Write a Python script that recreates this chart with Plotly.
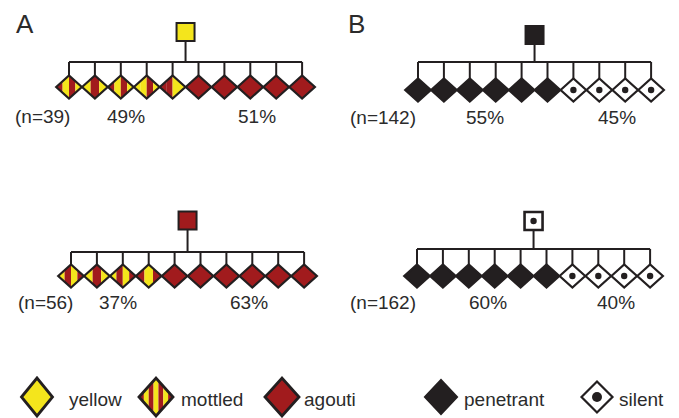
import plotly.graph_objects as go

# ---------------- data ----------------
panel_labels = ["A", "B"]
litter_n = [39, 56, 142, 162]
pct_left = [49, 37, 55, 60]
pct_right = [51, 63, 45, 40]
parent_pheno = ["yellow", "agouti", "penetrant", "silent"]
left_class = ["mottled", "mottled", "penetrant", "penetrant"]
left_count = [5, 4, 6, 6]
right_class = ["agouti", "agouti", "silent", "silent"]
right_count = [5, 6, 4, 4]
mottle_patterns = [
    ["RYRY", "YRY", "RYRY", "YYRY", "RRYY"],
    ["YRYR", "YRY", "YRYR", "RYR"],
    [], [],
]
legend_labels = ["yellow", "mottled", "agouti", "penetrant", "silent"]
legend_pattern = "RYRYRYR"

# ---------------- style / layout ----------------
W, H = 679, 418
PAD = 8                  # page body margin of the browser
INK = "#231f20"
TXT = "#2b2b2b"
YEL = "#f4e51c"
RED = "#a11b1d"
FONT = "Liberation Sans, Arial, sans-serif"

panel_label_x = [14, 346]
panel_label_y = 24
bar_x0 = [69, 71, 418, 417]
bar_y = [62, 252, 62, 249]
spacing = 25.9
parent_cy = [32, 220.5, 35, 221]
diamond_cy = [87, 276, 90, 276]
label_y = [116, 302, 117, 302]
n_x = [13, 16, 348, 348]
pct_left_x = [125.5, 117.5, 485, 488]
pct_right_x = [257, 249, 617, 616]
DA, DB = 12.8, 11.5      # diamond half width / height
SQ = 9                   # parent square half size

legend_cx = [37, 156, 282, 441, 597]
legend_tx = [67, 179, 302, 462, 617]
legend_cy = 397
legend_ty = 399
legend_a = [15.5, 17, 17, 15.5, 15.5]
legend_b = [19, 19, 19, 16.5, 15.5]

shapes = []
annotations = []


def line(x0, y0, x1, y1, w=2):
    shapes.append(dict(type="line", xref="x", yref="y", x0=x0, y0=y0, x1=x1, y1=y1,
                       line=dict(color=INK, width=w)))


def diamond_path(cx, cy, a, b):
    return f"M {cx-a},{cy} L {cx},{cy-b} L {cx+a},{cy} L {cx},{cy+b} Z"


def strip_path(cx, cy, a, b, u0, u1):
    us = [u0, u1]
    if u0 < 0 < u1:
        us = [u0, 0, u1]
    top = [(cx + u, cy - b * (1 - abs(u) / a)) for u in us]
    bot = [(cx + u, cy + b * (1 - abs(u) / a)) for u in reversed(us)]
    pts = top + bot
    return "M " + " L ".join(f"{x},{y}" for x, y in pts) + " Z"


def draw_diamond(cx, cy, a, b, kind, pattern="RYRY", lw=2.2, dot_r=3.2):
    if kind == "mottled":
        k = len(pattern)
        for i, c in enumerate(pattern):
            u0 = -a + 2 * a * i / k
            u1 = -a + 2 * a * (i + 1) / k
            shapes.append(dict(type="path", xref="x", yref="y",
                               path=strip_path(cx, cy, a, b, u0, u1),
                               fillcolor=RED if c == "R" else YEL,
                               line=dict(width=0)))
        fill = "rgba(0,0,0,0)"
    else:
        fill = {"yellow": YEL, "agouti": RED, "penetrant": INK, "silent": "white"}[kind]
    shapes.append(dict(type="path", xref="x", yref="y", path=diamond_path(cx, cy, a, b),
                       fillcolor=fill, line=dict(color=INK, width=lw)))
    if kind == "silent":
        shapes.append(dict(type="circle", xref="x", yref="y",
                           x0=cx - dot_r, x1=cx + dot_r, y0=cy - dot_r, y1=cy + dot_r,
                           fillcolor=INK, line=dict(width=0)))


def draw_square(cx, cy, kind):
    fill = {"yellow": YEL, "agouti": RED, "penetrant": INK, "silent": "white"}[kind]
    shapes.append(dict(type="rect", xref="x", yref="y", x0=cx - SQ, x1=cx + SQ,
                       y0=cy - SQ, y1=cy + SQ, fillcolor=fill,
                       line=dict(color=INK, width=2.6 if kind == "silent" else 2)))
    if kind == "silent":
        r = 3.2
        shapes.append(dict(type="circle", xref="x", yref="y", x0=cx - r, x1=cx + r,
                           y0=cy - r, y1=cy + r, fillcolor=INK, line=dict(width=0)))


def text(x, y, s, size=19, anchor="left"):
    annotations.append(dict(x=x, y=y, xref="x", yref="y", text=s, showarrow=False,
                            xanchor=anchor, yanchor="middle",
                            font=dict(family=FONT, size=size, color=TXT)))


# panel letters
for i, lab in enumerate(panel_labels):
    text(panel_label_x[i], panel_label_y, lab, size=26)

# litters
for j in range(len(litter_n)):
    kids = [left_class[j]] * left_count[j] + [right_class[j]] * right_count[j]
    xs = [bar_x0[j] + spacing * k for k in range(len(kids))]
    pcx = (xs[0] + xs[-1]) / 2
    line(xs[0], bar_y[j], xs[-1], bar_y[j])
    line(pcx, parent_cy[j] + SQ, pcx, bar_y[j])
    for x in xs:
        line(x, bar_y[j], x, diamond_cy[j] - DB)
    m = 0
    for x, kind in zip(xs, kids):
        pat = "RYRY"
        if kind == "mottled":
            pat = mottle_patterns[j][m]
            m += 1
        draw_diamond(x, diamond_cy[j], DA, DB, kind, pat)
    draw_square(pcx, parent_cy[j], parent_pheno[j])
    text(n_x[j], label_y[j], f"(n={litter_n[j]})")
    text(pct_left_x[j], label_y[j], f"{pct_left[j]}%", anchor="center")
    text(pct_right_x[j], label_y[j], f"{pct_right[j]}%", anchor="center")

# legend
for i, lab in enumerate(legend_labels):
    draw_diamond(legend_cx[i], legend_cy, legend_a[i], legend_b[i], lab, legend_pattern,
                 lw=2.8 if lab != "silent" else 2.2, dot_r=5)
    text(legend_tx[i], legend_ty, lab, size=19)

fig = go.Figure()
fig.add_trace(go.Scatter(x=[PAD, W], y=[PAD, H], mode="markers",
                         marker=dict(opacity=0), hoverinfo="skip", showlegend=False))
fig.update_layout(
    width=W - PAD, height=H - PAD, margin=dict(l=0, r=0, t=0, b=0),
    paper_bgcolor="white", plot_bgcolor="white",
    xaxis=dict(range=[PAD, W], visible=False, fixedrange=True),
    yaxis=dict(range=[H, PAD], visible=False, fixedrange=True),
    shapes=shapes, annotations=annotations, showlegend=False,
)
fig.write_html("out.html", config=dict(displayModeBar=False))
